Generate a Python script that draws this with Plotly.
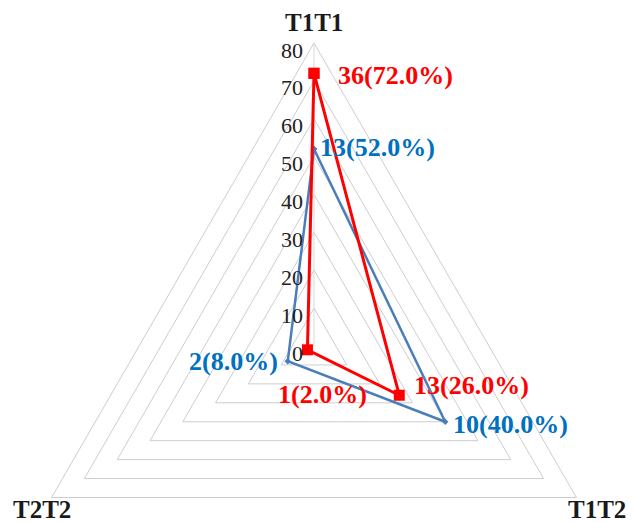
import math
import plotly.graph_objects as go

# ---- data ----
categories = ["T1T1", "T1T2", "T2T2"]
red_counts = [36, 13, 1]
red_pct = [72.0, 26.0, 2.0]
blue_counts = [13, 10, 2]
blue_pct = [52.0, 40.0, 8.0]
radial_ticks = [0, 10, 20, 30, 40, 50, 60, 70, 80]
tick_labels = ["0", "10", "20", "30", "40", "50", "60", "70", "80"]

# ---- geometry (pixel layout of the reference) ----
BODY = 8                   # default page margin of the html body
W, H = 634 - BODY, 523 - BODY
CX, CY = 314 - BODY, 346 - BODY   # centre pixel inside the figure
RADIUS_PX = 303            # pixels for r = 80
RMAX = radial_ticks[-1]
scale = RADIUS_PX / RMAX   # px per unit

angles = [90 - 120 * i for i in range(len(categories))]


def to_xy(r, ang):
    a = math.radians(ang)
    return r * math.cos(a), r * math.sin(a)


def polygon(values):
    xs, ys = [], []
    for v, a in zip(values + values[:1], angles + angles[:1]):
        x, y = to_xy(v, a)
        xs.append(x)
        ys.append(y)
    return xs, ys


fig = go.Figure()

# grid triangles
for t in radial_ticks[1:]:
    xs, ys = polygon([t] * len(categories))
    fig.add_trace(go.Scatter(x=xs, y=ys, mode="lines",
                             line=dict(color="#cdcdcd", width=1),
                             hoverinfo="skip", showlegend=False))
# value axis line
ax_x, ax_y = to_xy(RMAX, angles[0])
fig.add_trace(go.Scatter(x=[0, ax_x], y=[0, ax_y], mode="lines",
                         line=dict(color="#d9d9d9", width=1),
                         hoverinfo="skip", showlegend=False))

# blue series
bx, by = polygon(blue_pct)
fig.add_trace(go.Scatter(x=bx, y=by, mode="lines+markers",
                         line=dict(color="#4A7EBB", width=2.5),
                         marker=dict(color="#4A7EBB", size=5, symbol="diamond"),
                         showlegend=False))
# red series
rx, ry = polygon(red_pct)
fig.add_trace(go.Scatter(x=rx, y=ry, mode="lines+markers",
                         line=dict(color="#FF0000", width=3),
                         marker=dict(color="#FF0000", size=11, symbol="square"),
                         showlegend=False))

serif = "Liberation Serif, Times New Roman, serif"
annotations = []

# radial tick labels
for t, lab in zip(radial_ticks, tick_labels):
    annotations.append(dict(x=0, y=t, text=lab, showarrow=False,
                            xanchor="right", yanchor="middle", borderpad=0,
                            xshift=-10, yshift=-7,
                            font=dict(family=serif, size=22, color="#222222")))

# category labels
cat_pos = [
    dict(xanchor="center", yanchor="bottom", xshift=0, yshift=6),
    dict(xanchor="left", yanchor="bottom", xshift=-9, yshift=-26),
    dict(xanchor="right", yanchor="bottom", xshift=20, yshift=-26),
]
for c, a, p in zip(categories, angles, cat_pos):
    x, y = to_xy(RMAX, a)
    annotations.append(dict(x=x, y=y, text=c, showarrow=False, borderpad=0,
                            font=dict(family=serif, size=25, color="#1a1a1a",
                                      weight="bold"), **p))

# data labels
red_lab_pos = [
    dict(xanchor="left", yanchor="middle", xshift=22, yshift=-2),
    dict(xanchor="left", yanchor="middle", xshift=13, yshift=10),
    dict(xanchor="center", yanchor="middle", xshift=15, yshift=-45),
]
blue_lab_pos = [
    dict(xanchor="left", yanchor="middle", xshift=4, yshift=2),
    dict(xanchor="left", yanchor="middle", xshift=6, yshift=-3),
    dict(xanchor="right", yanchor="middle", xshift=-8, yshift=0),
]
for vals, cnts, pos, col in [(blue_pct, blue_counts, blue_lab_pos, "#0070C0"),
                             (red_pct, red_counts, red_lab_pos, "#FF0000")]:
    for v, n, a, p in zip(vals, cnts, angles, pos):
        x, y = to_xy(v, a)
        annotations.append(dict(x=x, y=y, text=f"{n}({v:.1f}%)", showarrow=False,
                                font=dict(family=serif, size=26, color=col,
                                          weight="bold"), **p))

x_range = [(0 - CX) / scale, (W - CX) / scale]
y_range = [-(H - CY) / scale, CY / scale]

fig.update_layout(
    width=W, height=H,
    margin=dict(l=0, r=0, t=0, b=0),
    paper_bgcolor="white", plot_bgcolor="white",
    xaxis=dict(range=x_range, visible=False, fixedrange=True),
    yaxis=dict(range=y_range, visible=False, fixedrange=True),
    annotations=annotations,
    showlegend=False,
)

fig.write_html("out.html")
